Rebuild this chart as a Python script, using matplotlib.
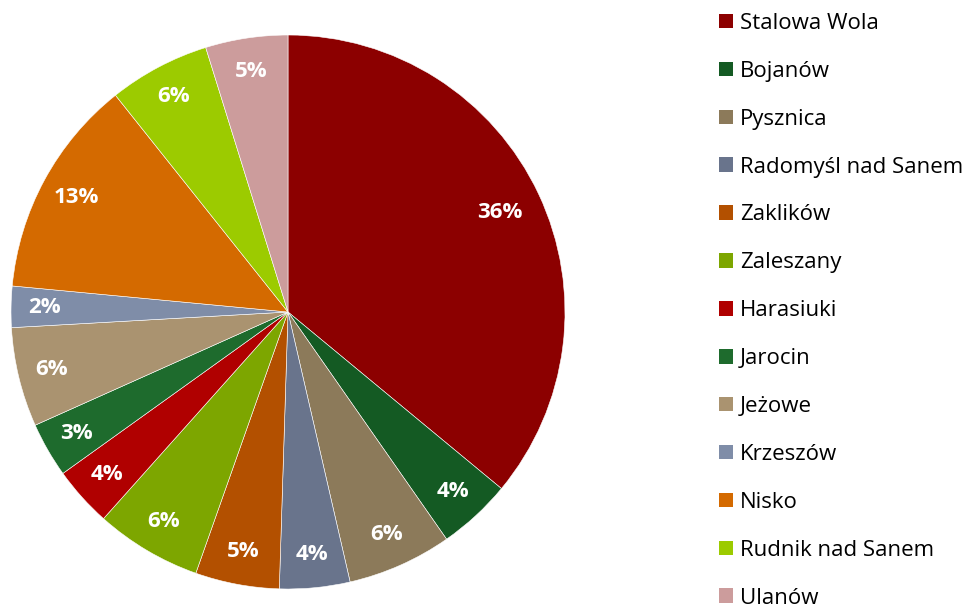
import matplotlib
matplotlib.use("Agg")
import matplotlib.pyplot as plt
from matplotlib.patches import Patch

categories = ["Stalowa Wola", "Bojanów", "Pysznica", "Radomyśl nad Sanem", "Zaklików",
              "Zaleszany", "Harasiuki", "Jarocin", "Jeżowe", "Krzeszów", "Nisko",
              "Rudnik nad Sanem", "Ulanów"]
values = [36.0, 4.3, 6.1, 4.1, 4.9, 6.2, 3.5, 3.2, 5.8, 2.4, 12.8, 5.9, 4.8]
labels_pct = ["36%", "4%", "6%", "4%", "5%", "6%", "4%", "3%", "6%", "2%", "13%", "6%", "5%"]
colors = ["#8C0000", "#145A23", "#8C7A5A", "#69748C", "#B35000", "#7DA600", "#B00000",
          "#1E6B2D", "#AA9370", "#7F8DA8", "#D46A00", "#9CCB00", "#CC9C9C"]

plt.rcParams['font.family'] = ['Open Sans', 'DejaVu Sans']

fig = plt.figure(figsize=(9.72, 6.09), dpi=100)
ax = fig.add_axes([11/972, 20/609, 554/972, 554/609])

wedges, texts = ax.pie(values, colors=colors, startangle=90, counterclock=False,
                       radius=1, labels=labels_pct, labeldistance=0.88,
                       wedgeprops=dict(edgecolor="white", linewidth=0.4))
dist_adj = {0: 0.845 / 0.88, 10: 0.87 / 0.88}
for i, t in enumerate(texts):
    t.set_color("white")
    t.set_fontweight("bold")
    t.set_fontsize(16)
    t.set_ha("center")
    t.set_va("center")
    if i in dist_adj:
        x, y = t.get_position()
        t.set_position((x * dist_adj[i], y * dist_adj[i]))
ax.set_xlim(-1, 1)
ax.set_ylim(-1, 1)
ax.set_aspect("equal")
ax.axis("off")

handles = [Patch(facecolor=c, edgecolor="none") for c in colors]
fig.legend(handles, categories, loc="upper left", bbox_to_anchor=(710/972, 1 - 4/609),
           frameon=False, fontsize=16, handlelength=0.63, handleheight=0.63,
           handletextpad=0.32, labelspacing=1.21, borderaxespad=0)

fig.savefig("out.png", dpi=100)
